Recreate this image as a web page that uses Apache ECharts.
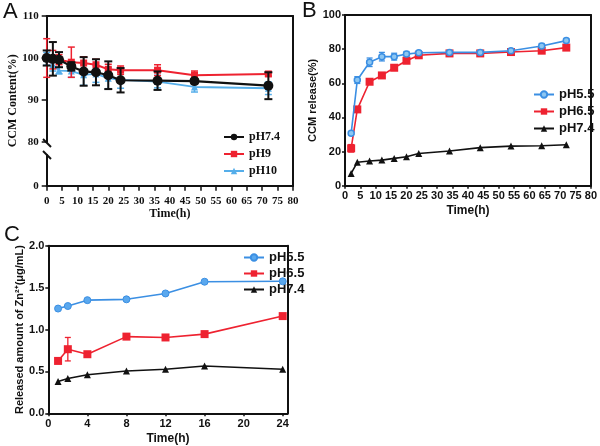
<!DOCTYPE html>
<html><head><meta charset="utf-8">
<script src="https://cdn.jsdelivr.net/npm/echarts@6/dist/echarts.min.js"></script>
<style>html,body{margin:0;padding:0;background:#fff}#c{width:600px;height:446px}</style>
</head><body><div id="c"></div>
<script>
// ---- Panel A data ----
const timeA = [0, 2, 4, 8, 12, 16, 20, 24, 36, 48, 72];
const a74 = [100, 99.8, 99.6, 98.0, 96.8, 96.6, 95.9, 94.7, 94.6, 94.5, 93.4];
const a74Err = [1.8, 4.0, 1.8, 1.0, 3.4, 3.1, 3.3, 2.9, 2.2, 0.5, 3.2];
const a9 = [100, 99.6, 99.6, 99.0, 98.8, 98.4, 97.3, 97.1, 97.1, 95.9, 96.2];
const a9Err = [4.6, 2.2, 1.2, 3.6, 1.5, 1.3, 1.2, 1.0, 1.3, 1.0, 0.5];
const a10 = [99.8, 98.4, 97.0, 96.9, 96.0, 96.2, 95.2, 94.8, 94.4, 93.1, 92.8];
const a10Err = [1.5, 1.5, 0.8, 1.5, 2.5, 2.0, 2.5, 2.0, 1.5, 1.2, 1.5];
const namesA = ['pH7.4', 'pH9', 'pH10'];
// ---- Panel B data ----
const timeB = [2, 4, 8, 12, 16, 20, 24, 34, 44, 54, 64, 72];
const b55 = [30.7, 61.9, 72.3, 75.6, 75.6, 77.1, 77.9, 78.1, 78.1, 79.1, 81.8, 85.0];
const b55Err = [0.8, 2.0, 2.5, 2.5, 2.0, 1.5, 1.2, 1.0, 0.5, 1.0, 1.5, 1.2];
const b65 = [21.9, 44.7, 60.9, 64.6, 69.1, 73.2, 76.4, 77.5, 77.5, 78.3, 79.1, 80.9];
const b65Err = [2.2, 0.8, 0.8, 0.8, 0.5, 0.8, 0.5, 0.3, 0.3, 0.3, 0.3, 0.3];
const b74 = [7.2, 13.7, 14.5, 15.0, 16.0, 17.0, 18.9, 20.3, 22.3, 23.2, 23.4, 24.0];
const namesB = ['pH5.5', 'pH6.5', 'pH7.4'];
// ---- Panel C data ----
const timeC = [1, 2, 4, 8, 12, 16, 24];
const c55 = [1.25, 1.28, 1.35, 1.36, 1.43, 1.57, 1.575];
const c65 = [0.625, 0.765, 0.705, 0.915, 0.905, 0.945, 1.16];
const c65Err = [0.03, 0.14, 0, 0, 0, 0, 0];
const c74 = [0.38, 0.415, 0.46, 0.505, 0.525, 0.565, 0.525];
const namesC = ['pH5.5', 'pH6.5', 'pH7.4'];
const ticksC = [0, 4, 8, 12, 16, 20, 24];

const RED = '#ee2230', BLUE = '#3b8fe3', BLUEA = '#55aeea', BLK = '#111111';
const SERIF = 'Liberation Serif', SANS = 'Liberation Sans';

function pairs(t, v) { return t.map((x, i) => [x, v[i]]); }
function errData(t, v, e) { return t.map((x, i) => [x, v[i] - e[i], v[i] + e[i]]); }
function errItem(color, cap, lw) {
  return function (params, api) {
    const x = api.value(0), lo = api.value(1), hi = api.value(2);
    const a = api.coord([x, hi]), b = api.coord([x, lo]);
    const st = { stroke: color, lineWidth: lw };
    return { type: 'group', children: [
      { type: 'line', shape: { x1: a[0], y1: a[1], x2: b[0], y2: b[1] }, style: st },
      { type: 'line', shape: { x1: a[0] - cap / 2, y1: a[1], x2: a[0] + cap / 2, y2: a[1] }, style: st },
      { type: 'line', shape: { x1: b[0] - cap / 2, y1: b[1], x2: b[0] + cap / 2, y2: b[1] }, style: st }
    ]};
  };
}
function errSeries(xi, yi, t, v, e, color, cap, lw, z) {
  return { type: 'custom', xAxisIndex: xi, yAxisIndex: yi, data: errData(t, v, e),
    encode: { x: 0, y: [1, 2] }, renderItem: errItem(color, cap, lw), z: z, silent: true };
}
const axLine = { show: true, onZero: false, lineStyle: { color: BLK, width: 2 } };
function lineOnly(gi, pos) {
  return { gridIndex: gi, type: 'value', position: pos, min: 0, max: 1, axisLine: axLine,
    axisTick: { show: false }, axisLabel: { show: false }, splitLine: { show: false } };
}
const lblA = { fontFamily: SERIF, fontWeight: 'bold', fontSize: 11, color: BLK };
const lblS = { fontFamily: SANS, fontWeight: 'bold', fontSize: 11, color: BLK };

const option = {
  animation: false,
  backgroundColor: '#fff',
  title: [
    { text: 'A', left: 3, top: 1, padding: 0, textStyle: { fontFamily: SANS, fontSize: 22, fontWeight: 'normal', color: BLK } },
    { text: 'B', left: 302, top: 0, padding: 0, textStyle: { fontFamily: SANS, fontSize: 22, fontWeight: 'normal', color: BLK } },
    { text: 'C', left: 4, top: 224, padding: 0, textStyle: { fontFamily: SANS, fontSize: 22, fontWeight: 'normal', color: BLK } }
  ],
  grid: [
    { left: 46.7, top: 16, width: 246.3, height: 126 },
    { left: 46.7, top: 155, width: 246.3, height: 30.7 },
    { left: 46.7, top: 16, width: 246.3, height: 169.7 },
    { left: 345, top: 15, width: 248.3, height: 170.7 },
    { left: 48.3, top: 245.7, width: 239.3, height: 167.6 }
  ],
  xAxis: [
    { gridIndex: 0, type: 'value', min: 0, max: 80, show: false },
    { gridIndex: 1, type: 'value', min: 0, max: 80, interval: 5, axisLine: axLine,
      axisTick: { show: true, length: 5, lineStyle: { color: BLK, width: 1.5 } }, axisLabel: Object.assign({ margin: 10 }, lblA),
      splitLine: { show: false }, name: 'Time(h)', nameLocation: 'middle', nameGap: 21,
      nameTextStyle: { fontFamily: SERIF, fontWeight: 'bold', fontSize: 12, color: BLK } },
    lineOnly(2, 'top'),
    { gridIndex: 3, type: 'value', min: 0, max: 80, interval: 5, axisLine: axLine,
      axisTick: { show: true, length: 3, lineStyle: { color: BLK, width: 1.5 } }, axisLabel: Object.assign({ margin: 5 }, lblS),
      splitLine: { show: false }, name: 'Time(h)', nameLocation: 'middle', nameGap: 19,
      nameTextStyle: { fontFamily: SANS, fontWeight: 'bold', fontSize: 12, color: BLK } },
    lineOnly(3, 'top'),
    { gridIndex: 4, type: 'value', min: 0, max: 24.5, axisLine: axLine,
      axisTick: { show: true, length: 3, customValues: ticksC, lineStyle: { color: BLK, width: 1.5 } },
      axisLabel: Object.assign({ margin: 5, customValues: ticksC }, lblS),
      splitLine: { show: false }, name: 'Time(h)', nameLocation: 'middle', nameGap: 19,
      nameTextStyle: { fontFamily: SANS, fontWeight: 'bold', fontSize: 12, color: BLK } },
    lineOnly(4, 'top')
  ],
  yAxis: [
    { gridIndex: 0, type: 'value', min: 80, max: 110, interval: 10, axisLine: axLine,
      axisTick: { show: true, length: 5, lineStyle: { color: BLK, width: 1.5 } }, axisLabel: Object.assign({ margin: 8 }, lblA), splitLine: { show: false } },
    { gridIndex: 1, type: 'value', min: 0, max: 10, axisLine: axLine,
      axisTick: { show: true, length: 5, customValues: [0], lineStyle: { color: BLK, width: 1.5 } },
      axisLabel: Object.assign({ margin: 8, customValues: [0] }, lblA), splitLine: { show: false } },
    { gridIndex: 2, type: 'value', min: 0, max: 1, position: 'left', axisLine: { show: false }, axisTick: { show: false },
      axisLabel: { show: false }, splitLine: { show: false }, name: 'CCM Content(%)', nameLocation: 'middle', nameGap: 28,
      nameTextStyle: { fontFamily: SERIF, fontWeight: 'bold', fontSize: 12, color: BLK } },
    lineOnly(2, 'right'),
    { gridIndex: 3, type: 'value', min: 0, max: 100, interval: 20, axisLine: axLine,
      axisTick: { show: true, length: 3, lineStyle: { color: BLK, width: 1.5 } }, axisLabel: Object.assign({ margin: 4 }, lblS),
      splitLine: { show: false }, name: 'CCM release(%)', nameLocation: 'middle', nameGap: 22,
      nameTextStyle: { fontFamily: SANS, fontWeight: 'bold', fontSize: 11, color: BLK } },
    lineOnly(3, 'right'),
    { gridIndex: 4, type: 'value', min: 0, max: 2, interval: 0.5, axisLine: axLine,
      axisTick: { show: true, length: 3, lineStyle: { color: BLK, width: 1.5 } },
      axisLabel: Object.assign({ margin: 4, formatter: v => v.toFixed(1) }, lblS),
      splitLine: { show: false }, name: 'Released amount of Zn²⁺(μg/mL)', nameLocation: 'middle', nameGap: 18,
      nameTextStyle: { fontFamily: SANS, fontWeight: 'bold', fontSize: 11, color: BLK } },
    lineOnly(4, 'right')
  ],
  legend: [
    { data: namesA.map(n => 'A|' + n), orient: 'vertical', left: 218, top: 126, itemWidth: 20, itemHeight: 8, itemGap: 5,
      formatter: n => n.split('|')[1], textStyle: { fontFamily: SERIF, fontWeight: 'bold', fontSize: 12, color: BLK } },
    { data: namesB.map(n => 'B|' + n), orient: 'vertical', left: 528, top: 83, itemWidth: 20, itemHeight: 8, itemGap: 4,
      formatter: n => n.split('|')[1], textStyle: { fontFamily: SANS, fontWeight: 'bold', fontSize: 13, color: BLK } },
    { data: namesC.map(n => 'C|' + n), orient: 'vertical', left: 238, top: 246, itemWidth: 20, itemHeight: 8, itemGap: 3,
      formatter: n => n.split('|')[1], textStyle: { fontFamily: SANS, fontWeight: 'bold', fontSize: 13, color: BLK } }
  ],
  graphic: [
    { type: 'line', shape: { x1: 43, y1: 139, x2: 51, y2: 147 }, style: { stroke: BLK, lineWidth: 2 } },
    { type: 'line', shape: { x1: 43, y1: 151, x2: 51, y2: 159 }, style: { stroke: BLK, lineWidth: 2 } }
  ],
  series: [
    // Panel A
    errSeries(0, 0, timeA, a10, a10Err, BLUEA, 7, 1.5, 2),
    errSeries(0, 0, timeA, a9, a9Err, RED, 7, 1.5, 3),
    errSeries(0, 0, timeA, a74, a74Err, BLK, 8, 2, 4),
    { name: 'A|pH10', type: 'line', xAxisIndex: 0, yAxisIndex: 0, data: pairs(timeA, a10), symbol: 'triangle', symbolSize: 7,
      lineStyle: { color: BLUEA, width: 1.8 }, itemStyle: { color: BLUEA }, z: 2 },
    { name: 'A|pH9', type: 'line', xAxisIndex: 0, yAxisIndex: 0, data: pairs(timeA, a9), symbol: 'rect', symbolSize: 7,
      lineStyle: { color: RED, width: 2 }, itemStyle: { color: RED }, z: 3 },
    { name: 'A|pH7.4', type: 'line', xAxisIndex: 0, yAxisIndex: 0, data: pairs(timeA, a74), symbol: 'circle', symbolSize: 10,
      lineStyle: { color: BLK, width: 2.2 }, itemStyle: { color: BLK }, z: 4 },
    // Panel B
    errSeries(3, 4, timeB, b55, b55Err, BLUE, 6, 1.3, 3),
    errSeries(3, 4, timeB, b65, b65Err, RED, 6, 1.3, 3),
    { name: 'B|pH5.5', type: 'line', xAxisIndex: 3, yAxisIndex: 4, data: pairs(timeB, b55), symbol: 'circle', symbolSize: 6,
      lineStyle: { color: BLUE, width: 1.6 }, itemStyle: { color: '#8cc6f2', borderColor: BLUE, borderWidth: 1.5 }, z: 4 },
    { name: 'B|pH6.5', type: 'line', xAxisIndex: 3, yAxisIndex: 4, data: pairs(timeB, b65), symbol: 'rect', symbolSize: 8,
      lineStyle: { color: RED, width: 1.6 }, itemStyle: { color: RED }, z: 3 },
    { name: 'B|pH7.4', type: 'line', xAxisIndex: 3, yAxisIndex: 4, data: pairs(timeB, b74), symbol: 'triangle', symbolSize: 7,
      lineStyle: { color: BLK, width: 1.6 }, itemStyle: { color: BLK }, z: 3 },
    // Panel C
    errSeries(5, 6, timeC, c65, c65Err, RED, 6, 1.3, 3),
    { name: 'C|pH5.5', type: 'line', xAxisIndex: 5, yAxisIndex: 6, data: pairs(timeC, c55), symbol: 'circle', symbolSize: 7,
      lineStyle: { color: BLUE, width: 1.6 }, itemStyle: { color: '#5aa8ee', borderColor: BLUE, borderWidth: 1 }, z: 4 },
    { name: 'C|pH6.5', type: 'line', xAxisIndex: 5, yAxisIndex: 6, data: pairs(timeC, c65), symbol: 'rect', symbolSize: 8,
      lineStyle: { color: RED, width: 1.6 }, itemStyle: { color: RED }, z: 3 },
    { name: 'C|pH7.4', type: 'line', xAxisIndex: 5, yAxisIndex: 6, data: pairs(timeC, c74), symbol: 'triangle', symbolSize: 7,
      lineStyle: { color: BLK, width: 1.6 }, itemStyle: { color: BLK }, z: 3 }
  ]
};
const chart = echarts.init(document.getElementById('c'), null, { renderer: 'canvas' });
chart.setOption(option);
</script>
</body></html>
